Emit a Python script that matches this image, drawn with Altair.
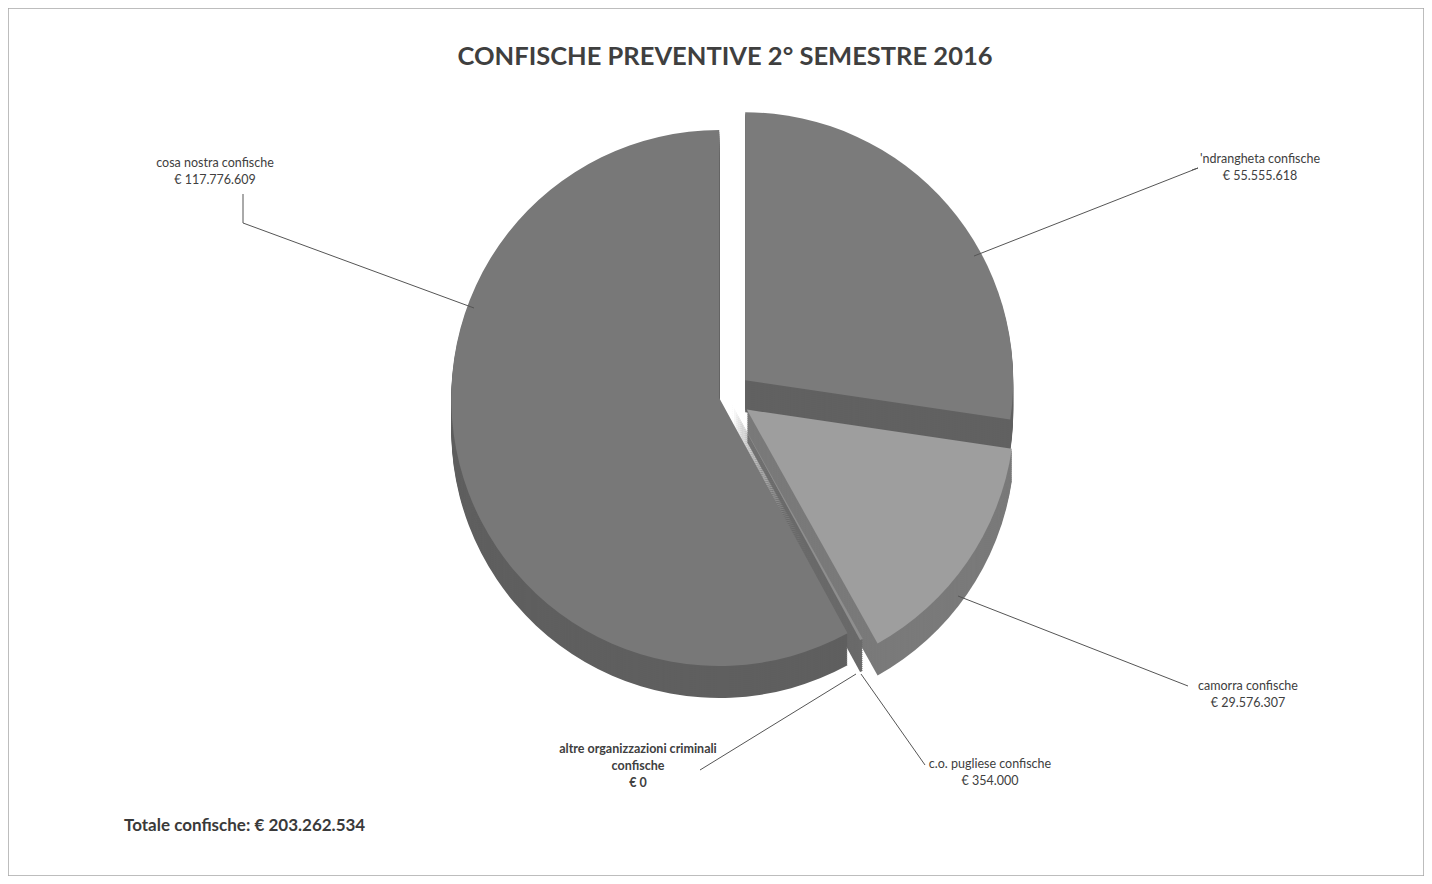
import altair as alt
import pandas as pd
import math

# ---------------- data ----------------
categories = [
    "'ndrangheta confische",
    "camorra confische",
    "c.o. pugliese confische",
    "altre organizzazioni criminali confische",
    "cosa nostra confische",
]
values = [55555618, 29576307, 354000, 0, 117776609]
slice_order = [1, 2, 3, 4, 5]
top_colors = ["#7b7b7b", "#9e9e9e", "#8e8e8e", "#888888", "#787878"]
side_colors = ["#616161", "#7a7a7a", "#6a6a6a", "#666666", "#5f5f5f"]
title_text = "CONFISCHE PREVENTIVE 2° SEMESTRE 2016"
total_label = "Totale confische: € 203.262.534"


def eur(v):
    return "€ " + f"{v:,}".replace(",", ".")


label_texts = [
    "'ndrangheta confische\n" + eur(values[0]),
    "camorra confische\n" + eur(values[1]),
    "c.o. pugliese confische\n" + eur(values[2]),
    "altre organizzazioni criminali\nconfische\n" + eur(values[3]),
    "cosa nostra confische\n" + eur(values[4]),
]

# ---------------- layout / style ----------------
W, H = 1416, 868
CX, CY, R = 719, 388, 268
explode = [24, 24, 10, 6, 8]          # pixel explosion of each slice
side_offsets = list(range(32, 0, -2))
label_pos = [(1252, 145), (1240, 672), (982, 750), (630, 735), (207, 149)]
leaders = [
    [(1184, 162), (1190, 160), (966, 248)],
    [(1180, 678), (950, 588)],
    [(917, 757), (853, 666)],
    [(692, 762), (848, 666)],
    [(235, 186), (235, 215), (466, 300)],
]
FONT = "Lato"
TXT = "#404040"

df = pd.DataFrame({
    "category": categories,
    "value": values,
    "order": slice_order,
    "top": top_colors,
    "side": side_colors,
    "explode": explode,
})

TWO_PI = 2 * math.pi


def pie_layer(color_field, off):
    base = alt.Chart(df).transform_joinaggregate(
        total="sum(value)"
    ).transform_window(
        cum="sum(value)", sort=[alt.SortField("order")], frame=[None, 0]
    ).transform_calculate(
        end="datum.cum / datum.total",
        start="(datum.cum - datum.value) / datum.total",
    ).transform_calculate(
        mid=f"(datum.start + datum.end) / 2 * {TWO_PI}",
    ).transform_calculate(
        px=f"{CX} + datum.explode * sin(datum.mid)",
        py=f"{CY} + {off} - datum.explode * cos(datum.mid)",
    )
    return base.mark_arc(radius=R).encode(
        theta=alt.Theta("start:Q", stack=False,
                        scale=alt.Scale(domain=[0, 1], range=[0, TWO_PI])),
        theta2="end:Q",
        color=alt.Color(f"{color_field}:N", scale=None),
        x=alt.X("px:Q", scale=None),
        y=alt.Y("py:Q", scale=None),
    )


layers = []
for off in side_offsets:
    layers.append(pie_layer("side", off))
layers.append(pie_layer("top", 0))

# leader lines
for pts in leaders:
    for (x1, y1), (x2, y2) in zip(pts[:-1], pts[1:]):
        layers.append(
            alt.Chart(pd.DataFrame({"a": [0]})).mark_rule(color="#555555", strokeWidth=1).encode(
                x=alt.value(x1), y=alt.value(y1), x2=alt.value(x2), y2=alt.value(y2)
            )
        )

# slice labels
for i, (txt, (lx, ly)) in enumerate(zip(label_texts, label_pos)):
    layers.append(
        alt.Chart(pd.DataFrame({"t": [txt]})).mark_text(
            font=FONT, fontSize=12.5, color=TXT, align="center", baseline="top",
            lineBreak="\n", lineHeight=17,
            fontWeight="bold" if i == 3 else "normal",
        ).encode(text="t:N", x=alt.value(lx), y=alt.value(ly))
    )

# title
layers.append(
    alt.Chart(pd.DataFrame({"t": [title_text]})).mark_text(
        font=FONT, fontSize=25.5, fontWeight="bold", color="#3f3f3f",
        align="center", baseline="middle",
    ).encode(text="t:N", x=alt.value(717), y=alt.value(49))
)

# total
layers.append(
    alt.Chart(pd.DataFrame({"t": [total_label]})).mark_text(
        font=FONT, fontSize=17, fontWeight="bold", color="#3a3a3a",
        align="left", baseline="middle",
    ).encode(text="t:N", x=alt.value(116), y=alt.value(818))
)

chart = alt.layer(*layers).properties(
    width=W, height=H, padding=0,
    autosize=alt.AutoSizeParams(type="none"),
    background="white",
).configure_view(stroke="#a8a8a8", strokeWidth=1.5)

chart.save("out.html", embed_options={"renderer": "svg", "actions": False})
